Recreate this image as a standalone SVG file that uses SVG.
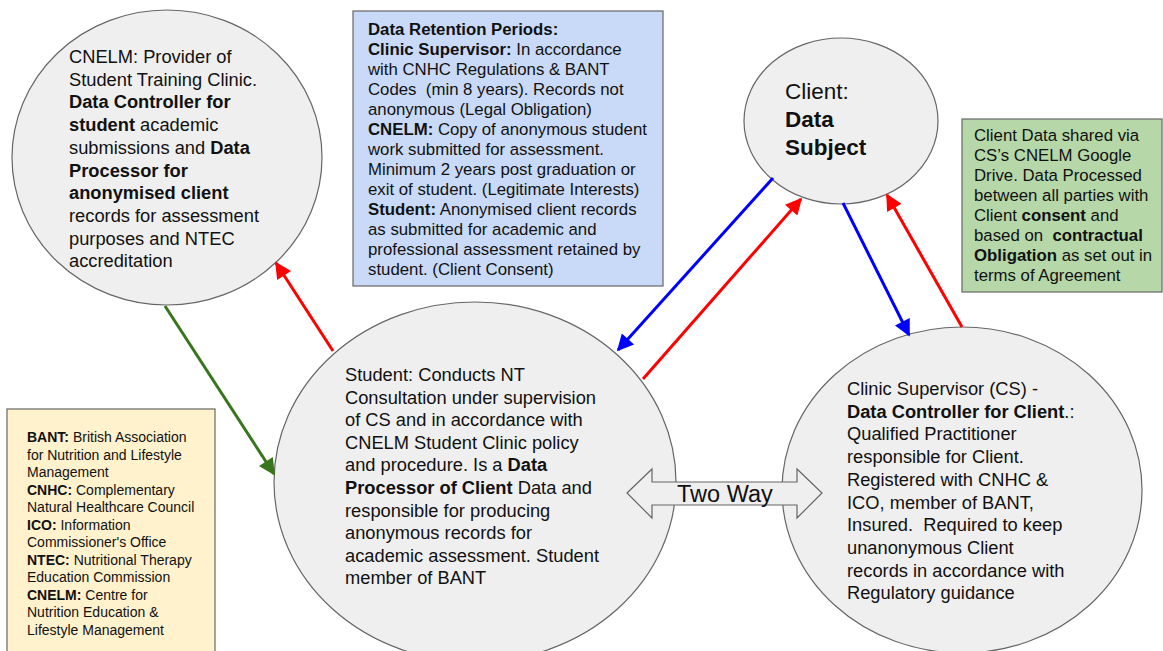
<svg xmlns="http://www.w3.org/2000/svg" width="1163" height="651" viewBox="0 0 1163 651">
<defs>
<style>
.node{fill:#efefef;stroke:#666;stroke-width:1.2}
.box{stroke:#666;stroke-width:1.2}
text{font-family:"Liberation Sans",Arial,sans-serif;fill:#111}
.t18{font-size:18.3px}
.t16{font-size:16.8px}
.t14{font-size:14px}
.b{font-weight:bold}
.c{fill:none;stroke-width:3}
</style>
<marker id="ar" viewBox="0 0 10 10" refX="9" refY="5" markerWidth="7" markerHeight="5.5" orient="auto" markerUnits="strokeWidth"><path d="M0,0 L10,5 L0,10 z" fill="#ff0000"/></marker>
<marker id="ab" viewBox="0 0 10 10" refX="9" refY="5" markerWidth="7" markerHeight="5.5" orient="auto" markerUnits="strokeWidth"><path d="M0,0 L10,5 L0,10 z" fill="#0000ff"/></marker>
<marker id="ag" viewBox="0 0 10 10" refX="9" refY="5" markerWidth="7" markerHeight="5.5" orient="auto" markerUnits="strokeWidth"><path d="M0,0 L10,5 L0,10 z" fill="#38761d"/></marker>
</defs>
<rect width="1163" height="651" fill="#ffffff"/>

<g id="cnelm">
<ellipse class="node" cx="167" cy="157.5" rx="155" ry="147.5"/>
<text class="t18" x="69" y="63">CNELM: Provider of</text>
<text class="t18" x="69" y="85.7">Student Training Clinic.</text>
<text class="t18 b" x="69" y="108.4">Data Controller for</text>
<text class="t18" x="69" y="131.1"><tspan class="b">student</tspan> academic</text>
<text class="t18" x="69" y="153.8">submissions and <tspan class="b">Data</tspan></text>
<text class="t18 b" x="69" y="176.5">Processor for</text>
<text class="t18 b" x="69" y="199.2">anonymised client</text>
<text class="t18" x="69" y="221.9">records for assessment</text>
<text class="t18" x="69" y="244.6">purposes and NTEC</text>
<text class="t18" x="69" y="267.3">accreditation</text>
</g>

<g id="retention">
<rect class="box" x="353" y="11" width="310" height="275" fill="#c9daf8"/>
<text class="t16 b" x="368" y="35">Data Retention Periods:</text>
<text class="t16" x="368" y="55"><tspan class="b">Clinic Supervisor:</tspan> In accordance</text>
<text class="t16" x="368" y="75">with CNHC Regulations &amp; BANT</text>
<text class="t16" x="368" y="95" xml:space="preserve">Codes  (min 8 years). Records not</text>
<text class="t16" x="368" y="115">anonymous (Legal Obligation)</text>
<text class="t16" x="368" y="135"><tspan class="b">CNELM:</tspan> Copy of anonymous student</text>
<text class="t16" x="368" y="155">work submitted for assessment.</text>
<text class="t16" x="368" y="175">Minimum 2 years post graduation or</text>
<text class="t16" x="368" y="195">exit of student. (Legitimate Interests)</text>
<text class="t16" x="368" y="215"><tspan class="b">Student:</tspan> Anonymised client records</text>
<text class="t16" x="368" y="235">as submitted for academic and</text>
<text class="t16" x="368" y="255">professional assessment retained by</text>
<text class="t16" x="368" y="275">student. (Client Consent)</text>
</g>

<g id="client">
<ellipse class="node" cx="841" cy="121" rx="97" ry="83"/>
<text x="785" y="99" font-size="22.5">Client:</text>
<text x="785" y="127" font-size="22.5" class="b">Data</text>
<text x="785" y="155" font-size="22.5" class="b">Subject</text>
</g>

<g id="sharing">
<rect class="box" x="962" y="119" width="200" height="173" fill="#b6d7a8"/>
<text class="t16" x="974" y="141">Client Data shared via</text>
<text class="t16" x="974" y="161">CS’s CNELM Google</text>
<text class="t16" x="974" y="181">Drive. Data Processed</text>
<text class="t16" x="974" y="201">between all parties with</text>
<text class="t16" x="974" y="221">Client <tspan class="b">consent</tspan> and</text>
<text class="t16" x="974" y="241" xml:space="preserve">based on  <tspan class="b">contractual</tspan></text>
<text class="t16" x="974" y="261"><tspan class="b">Obligation</tspan> as set out in</text>
<text class="t16" x="974" y="281">terms of Agreement</text>
</g>

<g id="legend">
<rect class="box" x="7" y="409" width="208" height="250" fill="#fff2cc"/>
<text class="t14" x="27" y="442"><tspan class="b">BANT:</tspan> British Association</text>
<text class="t14" x="27" y="459.5">for Nutrition and Lifestyle</text>
<text class="t14" x="27" y="477">Management</text>
<text class="t14" x="27" y="494.5"><tspan class="b">CNHC:</tspan> Complementary</text>
<text class="t14" x="27" y="512">Natural Healthcare Council</text>
<text class="t14" x="27" y="529.5"><tspan class="b">ICO:</tspan> Information</text>
<text class="t14" x="27" y="547">Commissioner's Office</text>
<text class="t14" x="27" y="564.5"><tspan class="b">NTEC:</tspan> Nutritional Therapy</text>
<text class="t14" x="27" y="582">Education Commission</text>
<text class="t14" x="27" y="599.5"><tspan class="b">CNELM:</tspan> Centre for</text>
<text class="t14" x="27" y="617">Nutrition Education &amp;</text>
<text class="t14" x="27" y="634.5">Lifestyle Management</text>
</g>

<g id="student">
<ellipse class="node" cx="475" cy="482" rx="201" ry="180"/>
<text class="t18" x="345" y="381">Student: Conducts NT</text>
<text class="t18" x="345" y="403.6">Consultation under supervision</text>
<text class="t18" x="345" y="426.2">of CS and in accordance with</text>
<text class="t18" x="345" y="448.8">CNELM Student Clinic policy</text>
<text class="t18" x="345" y="471.4">and procedure. Is a <tspan class="b">Data</tspan></text>
<text class="t18" x="345" y="494"><tspan class="b">Processor of Client</tspan> Data and</text>
<text class="t18" x="345" y="516.6">responsible for producing</text>
<text class="t18" x="345" y="539.2">anonymous records for</text>
<text class="t18" x="345" y="561.8">academic assessment. Student</text>
<text class="t18" x="345" y="584.4">member of BANT</text>
</g>

<g id="supervisor">
<ellipse class="node" cx="962" cy="490" rx="180" ry="163"/>
<text class="t18" x="847" y="395">Clinic Supervisor (CS) -</text>
<text class="t18" x="847" y="417.7"><tspan class="b">Data Controller for Client</tspan>.:</text>
<text class="t18" x="847" y="440.4">Qualified Practitioner</text>
<text class="t18" x="847" y="463.1">responsible for Client.</text>
<text class="t18" x="847" y="485.8">Registered with CNHC &amp;</text>
<text class="t18" x="847" y="508.5">ICO, member of BANT,</text>
<text class="t18" x="847" y="531.2" xml:space="preserve">Insured.  Required to keep</text>
<text class="t18" x="847" y="553.9">unanonymous Client</text>
<text class="t18" x="847" y="576.6">records in accordance with</text>
<text class="t18" x="847" y="599.3">Regulatory guidance</text>
</g>

<g id="connectors">
<line class="c" x1="165" y1="306" x2="274" y2="474" stroke="#38761d" marker-end="url(#ag)"/>
<line class="c" x1="333" y1="351" x2="276" y2="263" stroke="#ff0000" marker-end="url(#ar)"/>
<line class="c" x1="773" y1="178" x2="618" y2="350" stroke="#0000ff" marker-end="url(#ab)"/>
<line class="c" x1="643" y1="379" x2="801" y2="199" stroke="#ff0000" marker-end="url(#ar)"/>
<line class="c" x1="843" y1="203" x2="909" y2="335" stroke="#0000ff" marker-end="url(#ab)"/>
<line class="c" x1="962" y1="327" x2="887" y2="195" stroke="#ff0000" marker-end="url(#ar)"/>
</g>

<g id="twoway">
<polygon points="627,493 652,469 652,482 797,482 797,469 822,493 797,518 797,505 652,505 652,518" fill="#efefef" stroke="#666" stroke-width="1.2"/>
<text x="677" y="502" font-size="23.5">Two Way</text>
</g>
</svg>
